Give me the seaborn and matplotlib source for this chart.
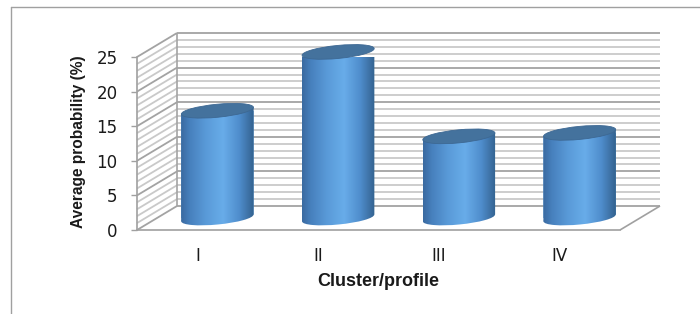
import numpy as np
import pandas as pd
import matplotlib
matplotlib.use("Agg")
import matplotlib.pyplot as plt
import seaborn as sns
from matplotlib.patches import Ellipse, Polygon
from matplotlib.lines import Line2D
from matplotlib.transforms import IdentityTransform, ScaledTranslation
from matplotlib.colors import LinearSegmentedColormap

# ---- data ----
categories = ["I", "II", "III", "IV"]
values = [15.5, 24.0, 11.8, 12.3]
y_ticks = [0, 5, 10, 15, 20, 25]
x_label = "Cluster/profile"
y_label = "Average probability (%)"

# ---- geometry / style ----
W, H, DPI = 700, 314, 100
DEPTH = (40.0, 24.0)      # back-wall offset in pixels (right, up)
TILT = 5.5                # ellipse tilt in degrees
ELL_H = 13.0              # ellipse minor axis in pixels
GRID_MINOR = "#c9c9c9"
GRID_MAJOR = "#a3a3a3"
EDGE = "#a0a0a0"

sns.set_theme(style="white")
plt.rcParams['font.family'] = ['DejaVu Sans']

fig = plt.figure(figsize=(W / DPI, H / DPI), dpi=DPI)
fig.patch.set_facecolor("white")
ax = fig.add_axes([137 / W, 84 / H, 483 / W, 173 / H])

df = pd.DataFrame({"cluster": categories, "prob": values})
sns.barplot(data=df, x="cluster", y="prob", ax=ax, width=0.6,
            color="#5a9ad8", saturation=1, zorder=3)

ax.set_xlim(-0.5, len(categories) - 0.5)
ax.set_ylim(0, 25)
ax.set_autoscale_on(False)
ax.patch.set_visible(False)
for k in ("top", "right"):
    ax.spines[k].set_visible(False)
for k in ("left", "bottom"):
    ax.spines[k].set_color(EDGE)
    ax.spines[k].set_linewidth(1.2)
    ax.spines[k].set_zorder(7)

ax.set_yticks(y_ticks)
ax.tick_params(axis="y", left=True, length=4, width=1, color=EDGE,
               pad=10, labelsize=12, labelcolor="#1a1a1a")
ax.tick_params(axis="x", bottom=False, pad=6, labelsize=12,
               labelcolor="#1a1a1a")
lab_font = ["Liberation Sans", "DejaVu Sans"]
ax.set_xlabel(x_label, fontsize=13, fontweight="bold", color="#1a1a1a",
              family=lab_font)
ax.set_ylabel(y_label, fontsize=11.2, fontweight="bold", color="#1a1a1a",
              family=lab_font)
ax.xaxis.set_label_coords((378 - 137) / 483, (230 - 273) / 173)
ax.yaxis.set_label_coords((86 - 137) / 483, (230 - 141.5) / 173)

ident = IdentityTransform()


def disp(x, y, d=0.0):
    px, py = ax.transData.transform((x, y))
    return px + d * DEPTH[0], py + d * DEPTH[1]


def seg(p0, p1, color, lw=1.0, z=1):
    ln = Line2D([p0[0], p1[0]], [p0[1], p1[1]], transform=ident,
                color=color, lw=lw, clip_on=False, zorder=z,
                solid_capstyle="butt")
    ax.add_line(ln)
    ln.set_clip_on(False)


x_lo, x_hi = ax.get_xlim()
# back wall + left wall grid
for v in range(0, 26):
    c = GRID_MAJOR if v % 5 == 0 else GRID_MINOR
    seg(disp(x_lo, v, 1), disp(x_hi, v, 1), c, 1.3)
    seg(disp(x_lo, v, 0), disp(x_lo, v, 1), c, 1.3)
seg(disp(x_lo, 0, 1), disp(x_lo, 25, 1), GRID_MAJOR, 1.2)
# floor outline (right diagonal)
seg(disp(x_hi, 0, 0), disp(x_hi, 0, 1), EDGE, 1.2, z=7)

# ---- cylinders from seaborn bars ----
px_cat = disp(1, 0)[0] - disp(0, 0)[0]
px_val = disp(0, 1)[1] - disp(0, 0)[1]
dxd = 0.5 * DEPTH[0] / px_cat
dyd = 0.5 * DEPTH[1] / px_val

cmap = LinearSegmentedColormap.from_list("cyl", [
    (0.00, "#3a6aa0"), (0.12, "#4780bd"), (0.35, "#5a9bd9"),
    (0.58, "#68ace9"), (0.80, "#4f8dcc"), (1.00, "#33628f")])
grad = np.linspace(0, 1, 256).reshape(1, -1)

shift = ScaledTranslation(0.5 * DEPTH[0] / DPI, 0.5 * DEPTH[1] / DPI,
                          fig.dpi_scale_trans)
th = np.deg2rad(TILT)

for p in list(ax.patches):
    x0, w, h = p.get_x(), p.get_width(), p.get_height()
    p.set_transform(ax.transData + shift)
    p.set_edgecolor("none")
    xc = x0 + w / 2
    bc = disp(xc, 0, 0.5)
    tc = disp(xc, h, 0.5)
    wpx = w * px_cat
    a = wpx / 2
    dy = a * np.sin(th)
    body = Polygon([(bc[0] - a, bc[1] - dy), (bc[0] + a, bc[1] + dy),
                    (tc[0] + a, tc[1] + dy), (tc[0] - a, tc[1] - dy)],
                   closed=True, transform=ident)
    bottom = Ellipse(bc, wpx, ELL_H, angle=TILT, transform=ident)
    p.set_clip_path(body)
    p.set_clip_on(True)
    for clip in (body, bottom):
        im = ax.imshow(grad, cmap=cmap, aspect="auto", interpolation="bilinear",
                       extent=[x0 + dxd, x0 + w + dxd, -3 + dyd, h + 3 + dyd],
                       origin="lower", zorder=4)
        im.set_clip_path(clip)
    top = Ellipse(tc, wpx, ELL_H, angle=TILT, transform=ident,
                  facecolor="#44729d", edgecolor="#3d6893", lw=0.6,
                  zorder=6)
    ax.add_patch(top)
    top.set_clip_path(None)
    top.set_clip_on(False)

ax.set_xlim(x_lo, x_hi)
ax.set_ylim(0, 25)

# outer frame
fig.add_artist(Line2D([11 / W, 1.0], [1 - 7 / H, 1 - 7 / H],
                      transform=fig.transFigure, color=EDGE, lw=1.0))
fig.add_artist(Line2D([11 / W, 11 / W], [1 - 7 / H, 0.0],
                      transform=fig.transFigure, color=EDGE, lw=1.0))

fig.savefig("out.png", dpi=DPI, facecolor="white")
